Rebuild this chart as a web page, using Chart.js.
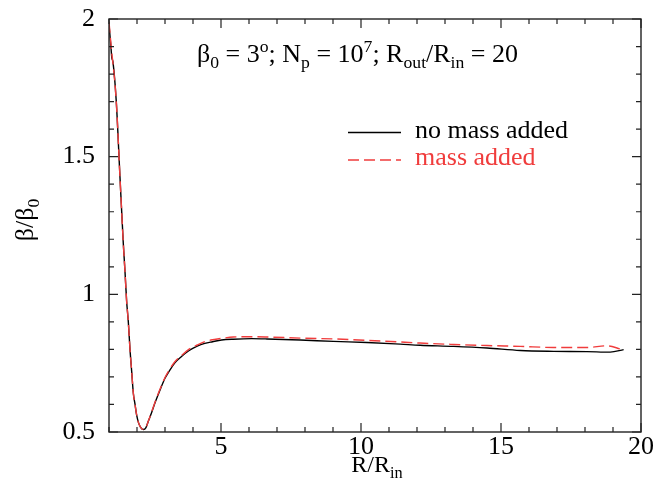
<!DOCTYPE html>
<html><head><meta charset="utf-8">
<script src="https://cdn.jsdelivr.net/npm/chart.js@4.4.1/dist/chart.umd.min.js"></script>
<style>html,body{margin:0;padding:0;background:#fff}#wrap{width:654px;height:481px;position:relative}</style>
</head><body><div id="wrap"><canvas id="c"></canvas></div>
<script>
// R/R_in sample positions
const rValues = [1.0, 1.06, 1.1, 1.14, 1.26, 1.39, 1.51, 1.57, 1.63, 1.69, 1.75, 1.81, 1.87, 1.93, 1.99, 2.05, 2.13, 2.23, 2.32, 2.40, 2.52, 2.65, 2.82, 3.0, 3.18, 3.36, 3.6, 3.85, 4.15, 4.42, 4.7, 5.02, 5.44, 6.1, 6.64, 7.83, 9.02, 10.21, 11.4, 12.11, 13.31, 14.5, 15.69, 16.88, 18.07, 18.9, 19.38];
// beta/beta0, no mass added
const noMassAdded = [1.98, 1.91, 1.86, 1.845, 1.70, 1.43, 1.186, 1.085, 0.975, 0.9, 0.8, 0.72, 0.64, 0.6, 0.56, 0.535, 0.517, 0.509, 0.516, 0.538, 0.57, 0.608, 0.652, 0.695, 0.726, 0.752, 0.775, 0.795, 0.812, 0.822, 0.828, 0.834, 0.837, 0.839, 0.838, 0.834, 0.829, 0.825, 0.819, 0.815, 0.811, 0.805, 0.796, 0.793, 0.792, 0.790, 0.799];
// beta/beta0, mass added
const rMass = [1.0, 1.06, 1.1, 1.14, 1.26, 1.39, 1.51, 1.57, 1.63, 1.69, 1.75, 1.81, 1.87, 1.93, 1.99, 2.05, 2.13, 2.23, 2.32, 2.40, 2.52, 2.65, 2.82, 3.0, 3.18, 3.36, 3.6, 3.85, 4.15, 4.42, 4.7, 5.02, 5.44, 6.1, 6.64, 7.83, 9.02, 10.21, 11.4, 12.11, 13.31, 14.5, 15.69, 16.88, 18.07, 18.79, 19.28];
const massAdded = [1.99, 1.92, 1.875, 1.84, 1.70, 1.43, 1.186, 1.085, 0.975, 0.9, 0.8, 0.72, 0.64, 0.6, 0.56, 0.535, 0.517, 0.509, 0.516, 0.538, 0.572, 0.61, 0.655, 0.698, 0.73, 0.756, 0.779, 0.8, 0.816, 0.828, 0.835, 0.84, 0.845, 0.846, 0.845, 0.841, 0.838, 0.833, 0.827, 0.823, 0.818, 0.814, 0.811, 0.807, 0.807, 0.813, 0.801];
const xTicks = [5, 10, 15, 20];
const yTicks = [0.5, 1, 1.5, 2];
const seriesLabels = ['no mass added', 'mass added'];
const seriesColors = ['#000000', '#f03c3c'];

const FONT = '"Liberation Serif", "Times New Roman", serif';

function richWidth(ctx, parts, size) {
  let w = 0;
  for (const [t, k] of parts) {
    const s = k === 'n' ? size : size * 0.68;
    ctx.font = s + 'px ' + FONT;
    w += ctx.measureText(t).width;
  }
  return w;
}
function rich(ctx, x, y, parts, size, color) {
  ctx.save();
  ctx.fillStyle = color;
  ctx.textBaseline = 'alphabetic';
  ctx.textAlign = 'left';
  for (const [t, k] of parts) {
    const s = k === 'n' ? size : size * 0.68;
    const dy = k === 'b' ? size * 0.24 : (k === 'p' ? -size * 0.38 : 0);
    ctx.font = s + 'px ' + FONT;
    ctx.fillText(t, x, y + dy);
    x += ctx.measureText(t).width;
  }
  ctx.restore();
}

const decor = {
  id: 'decor',
  afterDraw(chart) {
    const ctx = chart.ctx, a = chart.chartArea;
    const xs = chart.scales.x, ys = chart.scales.y;
    ctx.save();
    ctx.strokeStyle = '#222';
    ctx.lineWidth = 1.4;
    ctx.strokeRect(a.left, a.top, a.right - a.left, a.bottom - a.top);
    ctx.lineWidth = 1.2;
    ctx.beginPath();
    for (let v = 1; v <= 20; v++) {
      const px = xs.getPixelForValue(v);
      const L = v % 5 === 0 ? 9 : 5;
      ctx.moveTo(px, a.bottom); ctx.lineTo(px, a.bottom - L);
      ctx.moveTo(px, a.top); ctx.lineTo(px, a.top + L);
    }
    for (let i = 5; i <= 20; i++) {
      const v = i / 10;
      const py = ys.getPixelForValue(v);
      const L = i % 5 === 0 ? 9 : 5;
      ctx.moveTo(a.left, py); ctx.lineTo(a.left + L, py);
      ctx.moveTo(a.right, py); ctx.lineTo(a.right - L, py);
    }
    ctx.stroke();

    // annotation
    const title = [['β','n'],['0','b'],[' = 3','n'],['o','p'],['; N','n'],['p','b'],[' = 10','n'],['7','p'],['; R','n'],['out','b'],['/R','n'],['in','b'],[' = 20','n']];
    rich(ctx, 197, 62, title, 26, '#000');

    // legend
    const ds = chart.data.datasets;
    const legendRows = [[1, 132.5, 138], [0, 160, 165]];
    for (const [di, ly, ty] of legendRows) {
      const d = ds[di];
      ctx.beginPath();
      ctx.strokeStyle = d.borderColor;
      ctx.lineWidth = d.borderWidth;
      ctx.setLineDash(d.borderDash || []);
      ctx.moveTo(348, ly); ctx.lineTo(401, ly);
      ctx.stroke();
      ctx.setLineDash([]);
      ctx.font = '26px ' + FONT;
      ctx.fillStyle = d.borderColor;
      ctx.textBaseline = 'alphabetic';
      ctx.fillText(d.label, 415, ty);
    }

    // axis titles
    const xt = [['R/R','n'],['in','b']];
    const xw = richWidth(ctx, xt, 24);
    rich(ctx, (a.left + a.right) / 2 - xw / 2 + 2, 472, xt, 24, '#000');
    const yt = [['β/β','n'],['0','b']];
    const yw = richWidth(ctx, yt, 26);
    ctx.translate(33, 220);
    ctx.rotate(-Math.PI / 2);
    rich(ctx, -yw / 2, 0, yt, 26, '#000');
    ctx.restore();
  }
};

new Chart(document.getElementById('c'), {
  type: 'line',
  data: {
    datasets: [
      { label: seriesLabels[1], data: rMass.map((x, i) => ({ x, y: massAdded[i] })), borderColor: seriesColors[1], borderWidth: 1.4, borderDash: [11, 5], pointRadius: 0, fill: false, cubicInterpolationMode: 'monotone' },
      { label: seriesLabels[0], data: rValues.map((x, i) => ({ x, y: noMassAdded[i] })), borderColor: seriesColors[0], borderWidth: 1.4, pointRadius: 0, fill: false, cubicInterpolationMode: 'monotone' }
    ]
  },
  options: {
    animation: false,
    responsive: true,
    maintainAspectRatio: false,
    devicePixelRatio: 1,
    layout: { padding: { top: 19, right: 13, left: 0, bottom: 0 } },
    plugins: { legend: { display: false }, tooltip: { enabled: false }, title: { display: false } },
    scales: {
      x: {
        type: 'linear', min: 1, max: 20,
        grid: { display: false, drawTicks: false }, border: { display: false },
        ticks: { font: { family: FONT, size: 26 }, color: '#000', padding: 0, maxRotation: 0, autoSkip: false },
        afterBuildTicks: s => { s.ticks = xTicks.map(v => ({ value: v })); },
        afterFit: s => { s.height = 49; s.paddingLeft = 0; s.paddingRight = 0; }
      },
      y: {
        type: 'linear', min: 0.5, max: 2,
        grid: { display: false, drawTicks: false }, border: { display: false },
        ticks: { font: { family: FONT, size: 26 }, color: '#000', padding: 14, autoSkip: false, callback: v => String(v) },
        afterBuildTicks: s => { s.ticks = yTicks.map(v => ({ value: v })); },
        afterFit: s => { s.width = 109; s.paddingTop = 0; s.paddingBottom = 0; }
      }
    }
  },
  plugins: [decor]
});
</script>
</body></html>
